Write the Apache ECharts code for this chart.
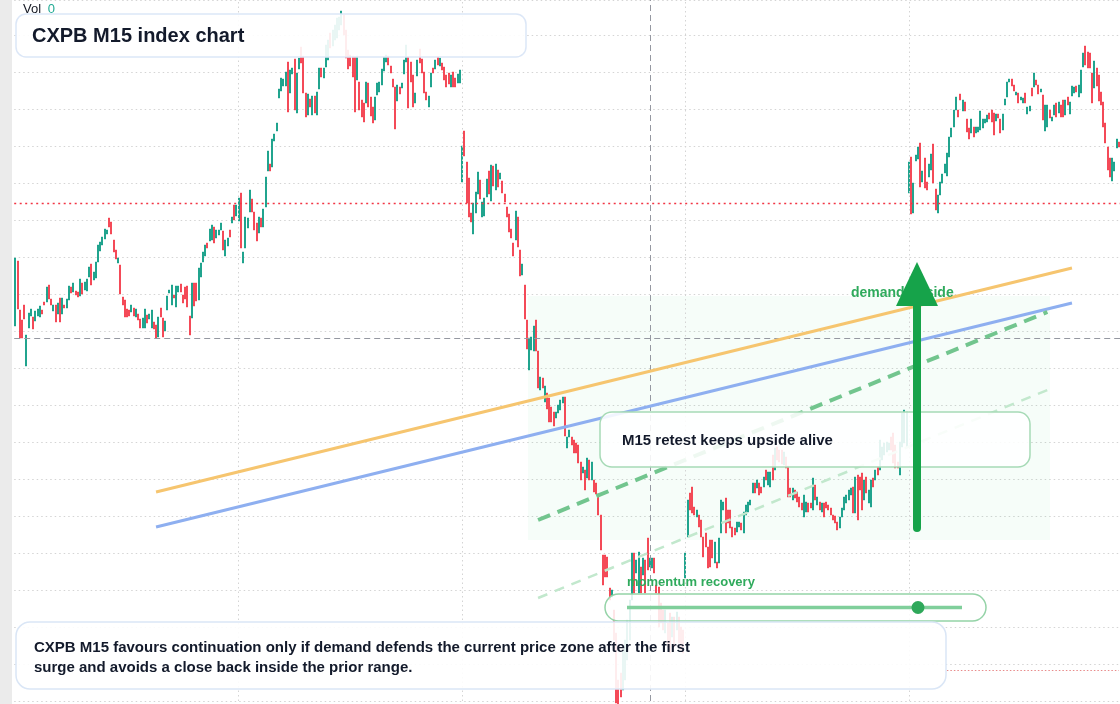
<!DOCTYPE html>
<html>
<head>
<meta charset="utf-8">
<script src="https://cdn.jsdelivr.net/npm/echarts@6/dist/echarts.min.js"></script>
<style>html,body{margin:0;padding:0;background:#fff;}#c{width:1120px;height:704px;}</style>
</head>
<body>
<div id="c"></div>
<script>
// M15 candles (open / close, price units)
const opens = [
466.7,473.2,468.3,467.3,468.8,462.7,466.5,467.7,467.6,467.2,
467.7,467.6,468.3,469.1,469.1,470.8,469.4,468.2,468.8,467.9,
469.5,467.9,468.8,468.5,469.3,470.6,470.1,470.2,470.1,469.7,
471.0,470.3,470.2,471.6,472.9,471.3,471.5,473.1,474.2,474.8,
475.4,475.9,477.5,477.1,475.3,474.3,473.0,472.8,469.6,469.3,
468.4,468.3,468.1,468.5,467.6,467.9,467.4,466.5,466.5,467.8,
467.4,466.5,467.1,466.8,465.6,468.5,467.5,466.2,468.3,470.0,
468.8,469.8,468.6,470.1,470.9,469.8,470.6,470.7,467.7,467.5,
471.0,471.0,469.3,471.6,473.1,473.7,475.0,475.2,475.3,476.6,
475.5,475.8,476.3,476.2,473.7,474.7,476.3,477.0,478.8,477.7,
477.2,
480.0,473.0,474.5,476.5,478.1,479.4,478.1,477.0,476.0,477.5,
476.6,478.6,482.2,482.9,482.6,485.2,486.2,489.5,490.2,490.7,
490.7,493.1,490.0,491.9,493.4,488.0,492.4,494.6,493.7,490.0,
487.8,489.4,487.8,489.7,487.8,490.4,492.5,491.5,492.6,493.3,
496.0,494.7,495.3,495.5,496.3,496.8,497.8,496.3,494.3,493.8,
493.7,493.6,491.3,491.1,489.3,489.0,489.0,491.0,489.6,488.6,
487.3,489.8,490.1,490.8,492.2,493.1,493.7,492.7,491.4,490.6,
489.2,490.6,490.5,491.9,493.1,493.6,493.1,491.8,489.0,491.7,
494.4,493.4,492.1,490.1,488.6,490.6,492.5,492.4,493.6,492.7,
493.0,492.6,491.8,492.0,490.6,492.1,491.5,491.0,491.0,
481.1,486.2,483.1,481.5,478.0,475.9,478.0,479.9,481.3,477.6,
477.7,479.6,482.2,479.2,482.7,480.3,482.3,481.4,481.2,479.9,
478.6,477.9,476.4,475.0,475.3,477.6,474.3,471.8,470.8,467.3,
462.3,464.3,464.2,467.3,464.2,460.3,461.5,459.1,460.0,459.5,
458.6,458.1,457.5,458.0,458.3,459.0,459.6,454.5,455.6,455.6,
455.3,455.0,454.8,453.1,452.0,452.3,451.5,453.3,451.3,451.3,
451.0,449.9,447.8,443.8,443.8,443.6,440.5,439.6,438.3,436.0,
431.3,432.0,430.3,431.3,433.3,435.3,439.3,444.0,442.0,440.0,
442.6,441.8,443.3,445.5,442.6,442.5,443.5,440.8,440.6,439.0,
438.3,436.0,437.0,438.0,435.6,437.6,436.3,437.6,436.6,436.3,
441.5,445.6,450.0,450.6,448.6,447.6,447.8,447.3,445.6,446.0,
444.6,445.3,445.3,443.0,443.1,443.0,446.0,448.3,449.5,448.3,
448.3,446.6,446.5,446.1,446.6,447.0,446.0,447.8,448.1,448.8,
450.0,451.0,450.5,451.0,450.6,450.6,452.3,450.8,450.6,453.8,
452.3,454.6,454.3,454.3,452.8,453.6,452.7,450.5,449.3,450.3,
450.1,449.6,449.0,447.6,448.1,449.0,449.0,448.3,450.8,448.8,
449.1,448.1,449.0,449.1,448.8,448.5,447.8,447.7,447.1,446.5,
447.6,448.3,449.0,449.3,449.8,450.6,448.0,451.8,451.6,452.0,
449.3,451.6,449.0,448.6,451.5,451.3,452.6,452.3,453.3,453.8,
454.1,454.3,455.6,456.0,454.8,453.1,451.8,454.6,455.0,454.6,
480.0,483.6,478.0,483.2,483.4,485.0,481.1,483.5,481.1,481.6,
482.3,484.9,480.4,478.0,479.8,481.0,482.0,481.7,483.6,485.6,
486.6,488.3,488.3,489.9,488.2,489.1,487.4,486.5,486.0,486.6,
486.0,486.1,486.3,486.5,487.0,487.1,488.0,488.3,488.0,487.2,
487.9,487.4,486.3,488.8,489.6,491.1,491.4,490.8,489.8,490.0,
489.3,489.0,490.0,487.9,488.2,490.5,490.6,491.3,490.8,490.1,
489.8,486.2,486.6,488.3,487.2,487.8,489.0,488.0,488.8,489.3,
487.8,489.6,487.9,489.7,490.0,490.7,489.6,490.0,492.6,494.7,
494.1,494.0,492.0,490.5,492.5,491.8,490.1,489.1,487.0,484.6,
483.5,481.2,482.2,484.5,485.1
];
const closes = [
473.5,468.4,465.5,465.5,467.4,465.8,468.0,468.4,466.4,468.2,
468.4,468.7,467.9,468.8,470.6,469.4,468.8,468.8,467.1,469.0,
467.1,469.5,468.5,469.4,470.7,470.0,471.0,469.8,469.6,471.4,
469.9,471.1,471.4,472.6,470.8,472.1,473.1,474.8,475.1,475.6,
476.4,476.3,476.6,475.9,474.1,473.4,473.5,469.9,468.8,467.6,
467.6,467.7,468.8,467.7,468.4,467.3,466.5,467.5,468.4,467.0,
467.9,468.3,466.4,465.5,467.6,467.6,465.6,467.2,469.7,470.3,
470.8,469.5,470.7,470.7,470.1,469.0,469.4,468.6,465.8,471.0,
468.7,469.2,472.5,473.0,474.1,474.8,474.5,476.4,476.8,475.0,
476.3,476.3,477.0,474.3,475.3,475.5,475.6,477.6,477.3,478.8,
479.5,
474.5,474.1,477.6,477.5,480.3,478.1,476.3,475.2,477.6,476.6,
478.4,481.6,484.2,482.2,485.4,485.9,487.0,490.4,491.5,491.4,
492.1,488.1,492.3,492.5,488.3,492.0,493.5,493.0,490.0,487.6,
489.9,488.6,489.7,488.0,490.1,492.5,491.6,492.5,494.8,495.3,
494.5,496.3,496.8,497.5,497.6,498.2,495.8,493.5,492.4,492.7,
491.6,488.1,493.7,488.3,487.6,487.1,491.1,488.6,487.7,487.0,
489.6,491.0,491.1,492.4,493.6,493.8,492.8,492.0,490.6,486.4,
490.8,489.9,491.0,493.3,494.8,488.5,491.1,488.6,490.0,493.3,
493.0,492.0,490.0,489.3,489.7,492.0,492.0,493.3,492.8,493.5,
492.3,491.3,490.6,490.9,491.8,490.6,490.6,491.9,492.3,
484.7,483.7,479.0,477.6,477.1,479.0,480.1,482.1,479.4,479.1,
479.5,481.4,479.9,482.8,480.7,482.9,480.6,482.0,480.0,479.1,
477.6,476.1,475.5,473.7,478.2,474.6,471.7,472.9,467.4,464.4,
465.5,465.6,466.7,464.2,460.5,461.6,460.5,460.7,458.4,457.1,
457.1,456.7,458.1,458.8,459.3,459.6,455.7,455.6,456.3,454.8,
454.0,454.0,453.0,451.3,452.6,450.3,453.5,451.3,453.1,450.1,
449.9,447.8,444.3,440.8,441.6,441.6,439.3,440.3,435.3,429.0,
427.8,429.6,434.3,435.3,437.3,439.3,444.0,440.0,443.3,444.1,
440.0,443.5,440.0,442.3,443.5,443.5,442.0,440.0,436.6,437.0,
436.3,438.3,434.6,434.0,437.6,434.6,438.1,435.0,434.3,434.0,
444.0,449.3,448.3,448.0,447.8,448.3,446.6,445.6,443.6,444.6,
442.5,442.6,443.5,445.1,442.5,445.5,449.3,449.1,446.0,447.0,
446.5,445.6,445.8,447.1,447.1,446.3,448.1,448.8,449.1,449.3,
451.0,450.0,451.3,449.8,450.0,451.6,451.3,452.1,452.1,451.3,
454.5,453.3,453.1,452.9,454.1,452.5,449.6,449.6,450.5,449.5,
449.1,448.6,448.3,449.8,449.1,448.1,448.5,451.5,449.3,449.6,
448.3,449.0,447.6,448.5,448.3,447.8,447.3,447.0,446.3,447.6,
448.5,449.6,449.8,450.3,450.5,448.0,451.6,447.3,450.3,448.3,
451.3,450.0,450.3,451.3,450.6,452.3,451.8,455.3,454.6,455.0,
455.1,455.0,454.3,453.0,452.5,452.5,455.1,458.0,458.3,458.1,
483.1,477.9,481.0,483.8,484.6,480.6,482.2,480.5,480.3,482.9,
483.9,481.0,478.3,479.8,481.1,481.9,482.9,484.0,485.6,486.5,
488.3,489.6,487.6,489.3,489.3,488.2,486.1,485.4,487.4,485.6,
486.6,486.6,488.2,487.4,487.4,487.8,487.4,487.1,485.8,487.9,
487.5,486.0,487.9,489.4,491.1,491.4,490.7,490.2,490.1,489.0,
489.6,489.5,489.0,488.6,488.7,489.7,492.0,490.8,489.9,490.4,
487.3,488.8,488.8,487.5,487.6,488.8,487.6,489.1,487.6,487.6,
489.3,488.8,489.1,490.7,490.6,490.1,490.8,492.3,494.0,492.8,
492.5,492.5,489.0,493.2,490.7,489.2,488.8,486.6,485.0,482.3,
481.6,483.5,483.1,485.4,484.6
];
// 15-minute time slots (unique category labels: day + time)
const categories = [];
for (let i = 0; i < opens.length; i++) {
  const m = (i * 15) % 1440;
  const d = Math.floor(i * 15 / 1440) + 1;
  categories.push('D' + d + ' ' + String(Math.floor(m / 60)).padStart(2, '0') + ':' + String(m % 60).padStart(2, '0'));
}
// annotation levels (price units)
const lastPrice = 479.0;
const crossPrice = 465.5;
const crossIndex = 284;
const volBase = 432.3;
const gridIdx = [100, 200, 300, 400];
const orangeLine = [[63, 450.1], [473, 472.5]];
const blueLine = [[63, 446.6], [473, 469.0]];
const greenDash = [[234, 447.3], [462, 468.1]];
const greenDashLight = [[234, 439.5], [462, 460.3]];

const candles = opens.map((o, i) => [o, closes[i], Math.min(o, closes[i]), Math.max(o, closes[i])]);
const seg = (pts, style) => [
  { coord: [categories[pts[0][0]], pts[0][1]], lineStyle: style },
  { coord: [categories[pts[1][0]], pts[1][1]] }
];

const chart = echarts.init(document.getElementById('c'), null, { renderer: 'canvas' });
const FONT = '"Liberation Sans", Arial, Helvetica, sans-serif';
const gridDot = { color: '#d4d4d4', width: 1, type: [1.5, 3] };

chart.setOption({
  animation: false,
  backgroundColor: '#ffffff',
  grid: { left: 14.2, top: 0, width: 1105.8, height: 701, containLabel: false },
  xAxis: {
    type: 'category', data: categories, boundaryGap: true,
    axisLine: { show: false }, axisTick: { show: false }, axisLabel: { show: false }, splitLine: { show: false }
  },
  yAxis: {
    type: 'value', min: 429.2, max: 499.3, interval: 3.7,
    axisLine: { show: false }, axisTick: { show: false }, axisLabel: { show: false },
    splitLine: { show: true, lineStyle: gridDot }
  },
  series: [
    {
      type: 'candlestick',
      data: candles,
      clip: false,
      barWidth: 1.5,
      itemStyle: { color: '#089981', color0: '#f23645', borderColor: '#089981', borderColor0: '#f23645', borderWidth: 0.8 },
      markLine: {
        silent: true, symbol: 'none', label: { show: false }, animation: false,
        data: [
          ...gridIdx.map(k => ({ xAxis: categories[k], lineStyle: gridDot })),
          { yAxis: lastPrice, lineStyle: { color: '#f23645', width: 1.3, type: [2, 3.5] } },
          { yAxis: crossPrice, lineStyle: { color: '#9598a1', width: 1, type: [6, 4] } },
          { xAxis: categories[crossIndex], lineStyle: { color: '#9598a1', width: 1, type: [6, 4] } },
          [{ coord: [categories[417], volBase], lineStyle: { color: '#e88a8a', width: 1, type: [1.5, 2] } }, { coord: [categories[494], volBase] }],
          seg(orangeLine, { color: '#f6c56f', width: 3, type: 'solid' }),
          seg(blueLine, { color: '#8eaff0', width: 3, type: 'solid' }),
          seg(greenDash, { color: '#72c58e', width: 4, type: [13, 8] }),
          seg(greenDashLight, { color: '#c2e8cd', width: 2.5, type: [10, 8] })
        ]
      }
    }
  ],
  graphic: [
    { type: 'rect', z: 0, shape: { x: 0, y: 0, width: 12, height: 704 }, style: { fill: '#ebebeb' } },
    { type: 'rect', z: 1, shape: { x: 528, y: 296, width: 522, height: 244 }, style: { fill: 'rgba(34,197,94,0.04)' } },
    { type: 'text', z: 100, x: 23, y: 9, style: { text: '{a|Vol}  {b|0}', verticalAlign: 'middle', rich: { a: { fill: '#131722', font: '13px ' + FONT }, b: { fill: '#22ab94', font: '13px ' + FONT } } } },
    { type: 'rect', z: 100, shape: { x: 16, y: 14, width: 510, height: 43, r: 10 }, style: { fill: 'rgba(255,255,255,0.9)', stroke: '#dce7f7', lineWidth: 1.5 } },
    { type: 'text', z: 101, x: 32, y: 36, style: { text: 'CXPB M15 index chart', font: 'bold 20px ' + FONT, fill: '#131a2b', verticalAlign: 'middle' } },
    { type: 'rect', z: 100, shape: { x: 600, y: 412, width: 430, height: 55, r: 12 }, style: { fill: 'rgba(255,255,255,0.88)', stroke: '#a6dab6', lineWidth: 1.5 } },
    { type: 'text', z: 101, x: 622, y: 441, style: { text: 'M15 retest keeps upside alive', font: 'bold 15px ' + FONT, fill: '#131a2b', verticalAlign: 'middle' } },
    { type: 'text', z: 101, x: 851, y: 293, style: { text: 'demand upside', font: 'bold 14px ' + FONT, fill: '#2faa5c', verticalAlign: 'middle' } },
    { type: 'line', z: 102, shape: { x1: 917, y1: 300, x2: 917, y2: 528 }, style: { stroke: '#16a34a', lineWidth: 8, lineCap: 'round' } },
    { type: 'polygon', z: 102, shape: { points: [[917, 262], [938, 306], [896, 306]] }, style: { fill: '#16a34a' } },
    { type: 'text', z: 101, x: 627, y: 582, style: { text: 'momentum recovery', font: 'bold 13px ' + FONT, fill: '#2faa5c', verticalAlign: 'middle' } },
    { type: 'rect', z: 100, shape: { x: 605, y: 594, width: 381, height: 27, r: 13.5 }, style: { fill: 'rgba(255,255,255,0.86)', stroke: '#94d3a7', lineWidth: 1.5 } },
    { type: 'line', z: 101, shape: { x1: 627, y1: 607.5, x2: 962, y2: 607.5 }, style: { stroke: '#80cf9b', lineWidth: 3.5 } },
    { type: 'circle', z: 102, shape: { cx: 918, cy: 607.5, r: 6.5 }, style: { fill: '#2ea85a' } },
    { type: 'rect', z: 100, shape: { x: 16, y: 622, width: 930, height: 67, r: 14 }, style: { fill: 'rgba(255,255,255,0.9)', stroke: '#dae6f6', lineWidth: 1.5 } },
    { type: 'text', z: 101, x: 34, y: 648, style: { text: 'CXPB M15 favours continuation only if demand defends the current price zone after the first', font: 'bold 15px ' + FONT, fill: '#131a2b', verticalAlign: 'middle' } },
    { type: 'text', z: 101, x: 34, y: 668, style: { text: 'surge and avoids a close back inside the prior range.', font: 'bold 15px ' + FONT, fill: '#131a2b', verticalAlign: 'middle' } }
  ]
});
</script>
</body>
</html>
